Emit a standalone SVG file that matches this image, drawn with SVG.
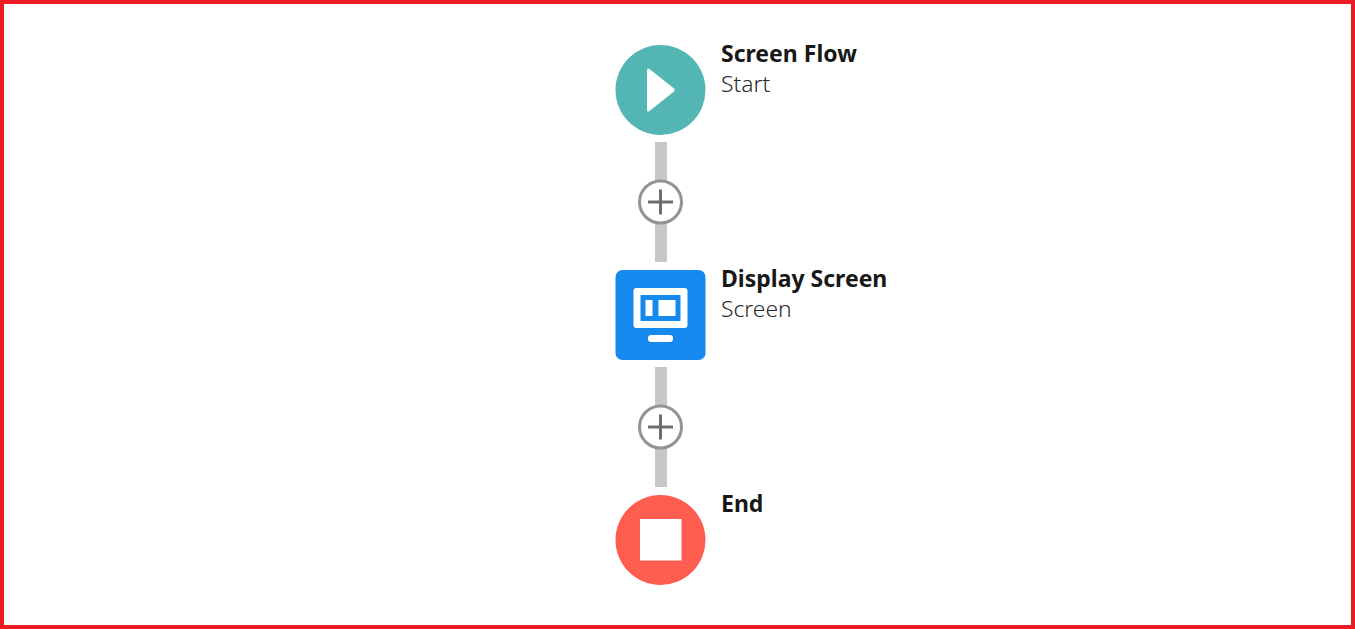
<svg xmlns="http://www.w3.org/2000/svg" width="1355" height="629" viewBox="0 0 1355 629">
<style>
.t{font-family:"Noto Sans","Open Sans","Liberation Sans",sans-serif;fill:#181818}
.b{font-weight:700;font-size:23px}
.l{font-weight:300;font-size:22.800px;fill:#2b2b2b}
.line{fill:#c9c7c5}
.pc{fill:#fff;stroke:#939393;stroke-width:3}
.pl{stroke:#706e6b;stroke-width:3;fill:none}
</style>
<rect x="0" y="0" width="1355" height="629" fill="#fff"/>
<rect x="2" y="2" width="1351" height="625" fill="none" stroke="#ed1c24" stroke-width="4"/>
<g id="connectors">
<rect class="line" x="655" y="142" width="12" height="120"/>
<rect class="line" x="655" y="367" width="12" height="120"/>
<g id="add-1"><circle class="pc" cx="660.500" cy="202" r="21"/><path class="pl" d="M648 202H673M660.500 189.500V214.500"/></g>
<g id="add-2"><circle class="pc" cx="660.500" cy="427" r="21"/><path class="pl" d="M648 427H673M660.500 414.500V439.500"/></g>
</g>
<g id="node-start">
<circle cx="660.500" cy="90" r="45" fill="#54b6b4"/>
<path d="M647 70Q647 67.500 649.500 69L674 88.500Q675.500 90 674 91.500L649.500 111Q647 112.500 647 110Z" fill="#fff"/>
<text class="t b" x="721" y="62">Screen Flow</text>
<text class="t l" x="721" y="92">Start</text>
</g>
<g id="node-screen">
<rect x="615.500" y="270" width="90" height="90" rx="7" fill="#1589ee"/>
<rect x="633.500" y="288" width="54" height="40" rx="3" fill="#fff"/>
<rect x="640.500" y="295" width="40" height="26" fill="#1589ee"/>
<rect x="645.500" y="300" width="7" height="16" fill="#fff"/>
<rect x="658.500" y="300" width="17" height="16" fill="#fff"/>
<rect x="648" y="335" width="25" height="7" rx="3" fill="#fff"/>
<text class="t b" x="721" y="287">Display Screen</text>
<text class="t l" x="721" y="317">Screen</text>
</g>
<g id="node-end">
<circle cx="660.500" cy="540" r="45" fill="#ff5d4f"/>
<rect x="640" y="519" width="41.500" height="41.500" fill="#fff"/>
<text class="t b" x="721" y="512">End</text>
</g>
</svg>
